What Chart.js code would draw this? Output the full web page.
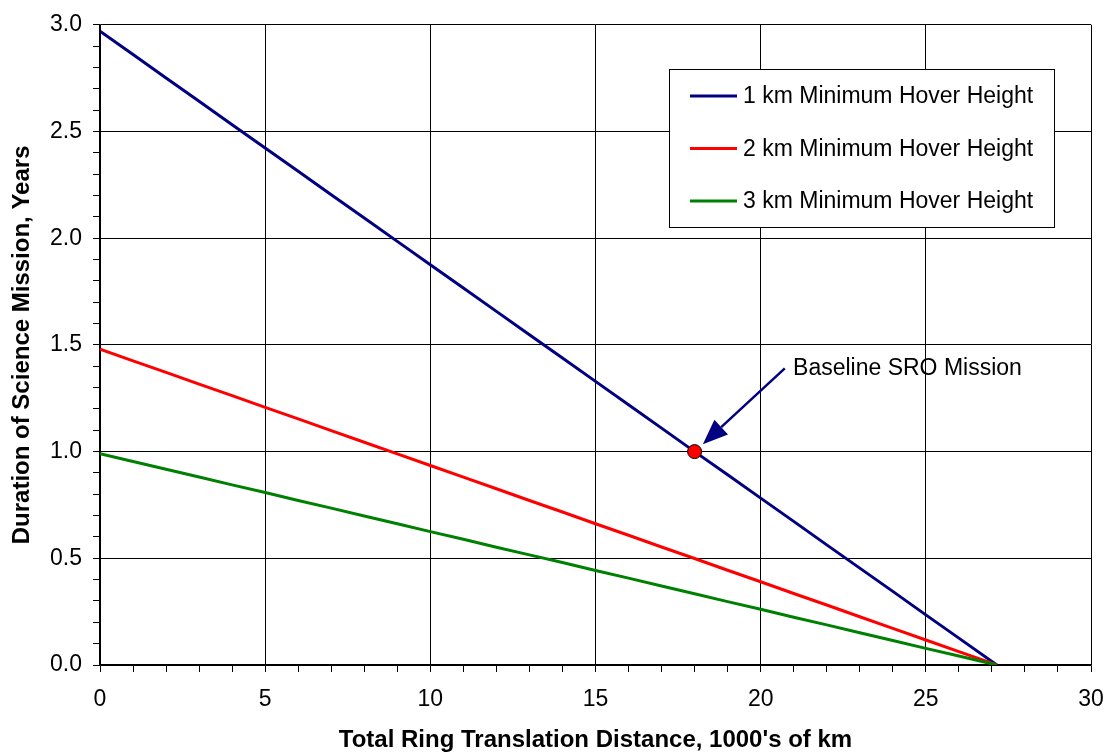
<!DOCTYPE html>
<html lang="en">
<head>
<meta charset="UTF-8">
<title>Science Mission Duration vs Ring Translation Distance</title>
<script src="https://cdn.jsdelivr.net/npm/chart.js"></script>
<style>
    body { margin: 0; background: #fff; }
    #chart { display: block; }
</style>
</head>
<body>
<canvas id="chart" width="1106" height="752"></canvas>
<script>
    // distance in 1000's of km
    const distance = [0, 1, 2, 3, 4, 5, 6, 7, 8, 9, 10, 11, 12, 13, 14, 15, 16, 17, 18, 19, 20, 21, 22, 23, 24, 25, 26, 27.15];

    // mission duration in years, one list per minimum hover height
    const hover1km = [2.970, 2.861, 2.751, 2.642, 2.532, 2.423, 2.314, 2.204, 2.095, 1.985, 1.876, 1.767, 1.657, 1.548, 1.439, 1.329, 1.220, 1.110, 1.000, 0.892, 0.782, 0.673, 0.563, 0.454, 0.345, 0.235, 0.126, 0];
    const hover2km = [1.480, 1.425, 1.371, 1.316, 1.262, 1.207, 1.153, 1.098, 1.044, 0.989, 0.935, 0.880, 0.826, 0.771, 0.717, 0.662, 0.608, 0.553, 0.499, 0.444, 0.390, 0.335, 0.281, 0.226, 0.172, 0.117, 0.063, 0];
    const hover3km = [0.990, 0.954, 0.917, 0.881, 0.844, 0.808, 0.771, 0.735, 0.698, 0.662, 0.625, 0.589, 0.552, 0.516, 0.480, 0.443, 0.407, 0.370, 0.334, 0.297, 0.261, 0.224, 0.188, 0.151, 0.115, 0.078, 0.042, 0];

    const seriesLabels = ['1 km Minimum Hover Height', '2 km Minimum Hover Height', '3 km Minimum Hover Height'];
    const seriesColors = ['#000080', '#ff0000', '#008000'];

    // baseline mission point
    const baseline = { x: 18, y: 1.0 };
    const baselineLabel = 'Baseline SRO Mission';

    const xTitle = "Total Ring Translation Distance, 1000's of km";
    const yTitle = 'Duration of Science Mission, Years';

    const FONT = '"Liberation Sans", Arial, sans-serif';

    function toPoints(ys) {
        return ys.map((y, i) => ({ x: distance[i], y: y }));
    }

    function lineSet(label, data, color, order) {
        return {
            label: label,
            data: toPoints(data),
            borderColor: color,
            backgroundColor: color,
            borderWidth: 3,
            pointRadius: 0,
            tension: 0,
            order: order
        };
    }

    // legend box, annotation arrow and axis titles
    const decorations = {
        id: 'decorations',
        afterDraw(chart) {
            const ctx = chart.ctx;
            const xs = chart.scales.x, ys = chart.scales.y;
            const area = chart.chartArea;
            ctx.save();

            // legend
            const lx = 669.5, ly = 69.5, lw = 385, lh = 158;
            ctx.fillStyle = '#fff';
            ctx.fillRect(lx, ly, lw, lh);
            ctx.strokeStyle = '#000';
            ctx.lineWidth = 1;
            ctx.strokeRect(lx, ly, lw, lh);
            ctx.font = '23px ' + FONT;
            ctx.textBaseline = 'middle';
            seriesLabels.forEach((label, i) => {
                const cy = 96 + i * 52.5;
                ctx.strokeStyle = seriesColors[i];
                ctx.lineWidth = 3;
                ctx.beginPath();
                ctx.moveTo(690, cy);
                ctx.lineTo(737, cy);
                ctx.stroke();
                ctx.fillStyle = '#000';
                ctx.textAlign = 'left';
                ctx.fillText(label, 743, cy + 1);
            });

            // annotation text and arrow
            ctx.fillStyle = '#000';
            ctx.font = '23px ' + FONT;
            ctx.textAlign = 'left';
            ctx.textBaseline = 'middle';
            ctx.fillText(baselineLabel, xs.getPixelForValue(20.98), ys.getPixelForValue(1.39));

            const x0 = xs.getPixelForValue(20.73), y0 = ys.getPixelForValue(1.39);
            const x1 = xs.getPixelForValue(18.25), y1 = ys.getPixelForValue(1.035);
            const ang = Math.atan2(y1 - y0, x1 - x0);
            const head = 25, half = 10;
            const bx = x1 - head * Math.cos(ang), by = y1 - head * Math.sin(ang);
            ctx.strokeStyle = '#000080';
            ctx.fillStyle = '#000080';
            ctx.lineWidth = 2.5;
            ctx.beginPath();
            ctx.moveTo(x0, y0);
            ctx.lineTo(bx, by);
            ctx.stroke();
            ctx.beginPath();
            ctx.moveTo(x1, y1);
            ctx.lineTo(bx + half * Math.sin(ang), by - half * Math.cos(ang));
            ctx.lineTo(bx - half * Math.sin(ang), by + half * Math.cos(ang));
            ctx.closePath();
            ctx.fill();

            // axis titles, centred on the plot area
            ctx.fillStyle = '#000';
            ctx.font = 'bold 24px ' + FONT;
            ctx.textAlign = 'center';
            ctx.textBaseline = 'middle';
            ctx.fillText(xTitle, (area.left + area.right) / 2, 740);
            ctx.translate(22, (area.top + area.bottom) / 2);
            ctx.rotate(-Math.PI / 2);
            ctx.fillText(yTitle, 0, 0);
            ctx.restore();
        }
    };

    const isMajorY = v => Math.round(v * 10) % 5 === 0;
    const isMajorX = v => Math.round(v) % 5 === 0;

    new Chart(document.getElementById('chart'), {
        type: 'line',
        data: {
            datasets: [
                {
                    type: 'scatter',
                    label: baselineLabel,
                    data: [baseline],
                    pointRadius: 7,
                    pointBackgroundColor: '#ff0000',
                    pointBorderColor: '#000',
                    pointBorderWidth: 1,
                    order: -1
                },
                lineSet(seriesLabels[0], hover1km, seriesColors[0], 2),
                lineSet(seriesLabels[1], hover2km, seriesColors[1], 1),
                lineSet(seriesLabels[2], hover3km, seriesColors[2], 0)
            ]
        },
        options: {
            responsive: false,
            animation: false,
            layout: { padding: { top: 24, right: 15, left: 0, bottom: 0 } },
            plugins: {
                legend: { display: false },
                tooltip: { enabled: false }
            },
            scales: {
                x: {
                    type: 'linear',
                    min: 0,
                    max: 30,
                    afterFit(scale) {
                        scale.height = 87;
                        // let the end labels hang past the plot edges
                        scale.paddingLeft = 0;
                        scale.paddingRight = 0;
                    },
                    ticks: {
                        stepSize: 1,
                        autoSkip: false,
                        maxRotation: 0,
                        color: '#000',
                        font: { family: FONT, size: 23 },
                        padding: 14,
                        callback: v => isMajorX(v) ? String(Math.round(v)) : ''
                    },
                    grid: {
                        color: c => isMajorX(c.tick.value) ? '#000' : 'rgba(0,0,0,0)',
                        tickColor: '#000',
                        tickLength: 7,
                        lineWidth: 1
                    },
                    border: { color: '#000', width: 1.5 }
                },
                y: {
                    min: 0,
                    max: 3,
                    afterFit(scale) { scale.width = 100; },
                    ticks: {
                        stepSize: 0.1,
                        autoSkip: false,
                        color: '#000',
                        font: { family: FONT, size: 23 },
                        padding: 11,
                        callback: v => isMajorY(v) ? v.toFixed(1) : ''
                    },
                    grid: {
                        color: c => isMajorY(c.tick.value) ? '#000' : 'rgba(0,0,0,0)',
                        tickColor: '#000',
                        tickLength: 7,
                        lineWidth: 1
                    },
                    border: { color: '#000', width: 1.5 }
                }
            }
        },
        plugins: [decorations]
    });
</script>
</body>
</html>
